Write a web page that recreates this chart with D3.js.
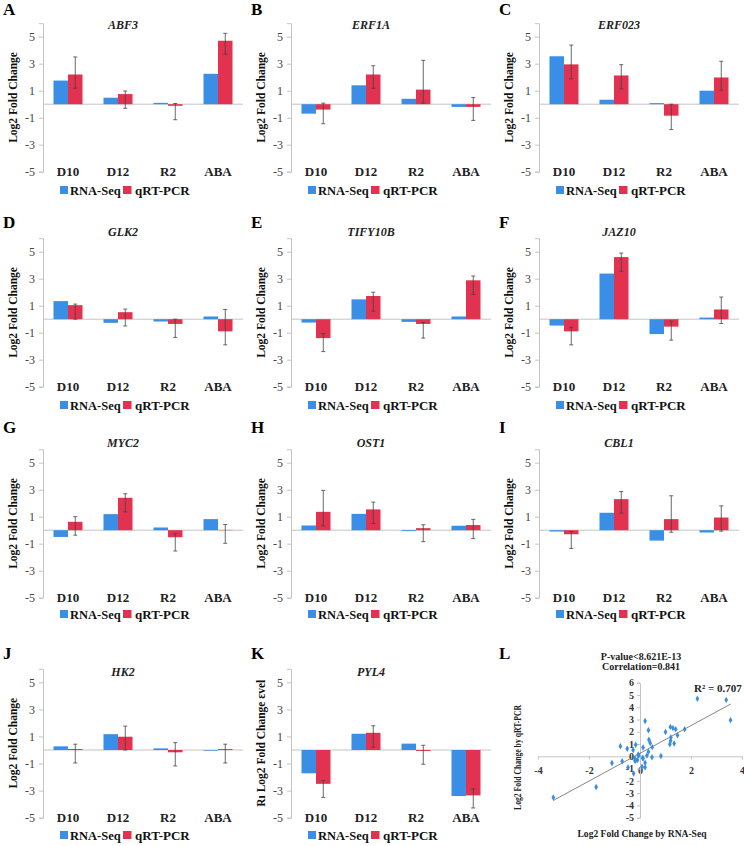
<!DOCTYPE html>
<html><head><meta charset="utf-8">
<script src="https://cdn.jsdelivr.net/npm/d3@7"></script>
<style>
body{margin:0;background:#fff}
svg{display:block}
text{font-family:"Liberation Serif","Times New Roman",serif}
</style>
</head><body><svg id="c" width="744" height="846"></svg>
<script>
const genes = ["ABF3","ERF1A","ERF023","GLK2","TIFY10B","JAZ10","MYC2","OST1","CBL1","HK2","PYL4"];
const letters = ["A","B","C","D","E","F","G","H","I","J","K","L"];
const categories = ["D10","D12","R2","ABA"];
const seriesNames = ["RNA-Seq","qRT-PCR"];
const yTicks = [-5,-3,-1,1,3,5];
const yLabels = ["Log2 Fold Change","Log2 Fold Change","Log2 Fold Change","Log2 Fold Change","Log2 Fold Change","Log2 Fold Change","Log2 Fold Change","Log2 Fold Change","Log2 Fold Change","Log2 Fold Change","R\u0131 Log2 Fold Change \u025Bvel"];

const rnaSeq = [
  [1.75,0.48,0.10,2.25],
  [-0.70,1.40,0.40,-0.20],
  [3.55,0.33,0.08,1.00],
  [1.34,-0.27,-0.17,0.20],
  [-0.25,1.47,-0.20,0.20],
  [-0.47,3.38,-1.10,0.12],
  [-0.50,1.19,0.20,0.82],
  [0.35,1.21,-0.07,0.33],
  [-0.10,1.29,-0.77,-0.17],
  [0.27,1.17,0.12,-0.05],
  [-1.72,1.20,0.47,-3.40]
];
const qrtPcr = [
  [2.20,0.75,-0.12,4.70],
  [-0.40,2.20,1.08,-0.20],
  [2.95,2.13,-0.85,1.98],
  [1.04,0.52,-0.35,-0.90],
  [-1.40,1.72,-0.35,2.88],
  [-0.90,4.60,-0.55,0.72],
  [0.62,2.40,-0.52,0.02],
  [1.36,1.54,0.15,0.38],
  [-0.30,2.30,0.82,0.94],
  [0.07,0.98,-0.17,0.07],
  [-2.50,1.27,-0.07,-3.35]
];
const errLow = [
  [1.18,-0.30,-1.15,3.70],
  [-1.45,1.18,0.08,-1.20],
  [1.88,1.13,-1.88,1.03],
  [0.00,-0.50,-1.35,-1.90],
  [-2.40,0.60,-1.40,1.84],
  [-1.90,3.55,-1.55,-0.32],
  [-0.37,1.36,-1.54,-0.97],
  [0.32,0.50,-0.85,-0.62],
  [-1.35,1.27,-0.15,-0.07],
  [-0.96,0.00,-1.18,-0.96],
  [-3.50,0.20,-1.05,-4.28]
];
const errHigh = [
  [3.50,0.98,0.05,5.25],
  [0.08,2.85,3.25,0.50],
  [4.38,2.93,0.00,3.18],
  [1.12,0.75,0.00,0.72],
  [-1.07,2.00,-0.25,3.20],
  [-0.60,4.90,-0.15,1.64],
  [1.00,2.70,-0.27,0.42],
  [2.95,2.08,0.40,0.80],
  [-0.10,2.86,2.55,1.80],
  [0.43,1.76,0.54,0.43],
  [-2.26,1.79,0.35,-2.87]
];
const scatterTitle = ["P-value<8.621E-13","Correlation=0.841"];
const r2Label = "R\u00B2 = 0.707";
const scatterXTicks = [-4,-2,0,2,4];
const scatterYTicks = [-5,-4,-3,-2,-1,0,1,2,3,4,5,6];

const colors = {"RNA-Seq":"#3a8ee6","qRT-PCR":"#e2324f"};
const axisCol = "#c4c4c4";
const SERIF = "'Liberation Serif','Times New Roman',serif";

// layout
const colX = [0,248,496];
const rowY5 = [36.7,251.7,462.7,682.3];
const rowYm5 = [171.7,386.7,597.7,817.7];
const rowTitle = [29,236,447,676];
const rowLetter = [15,228,433,659];
const rowLegend = [190,405,614,835];

const svg = d3.select("#c");

genes.forEach((gene,i)=>{
  const r = Math.floor(i/3), c = i%3;
  const g = svg.append("g").attr("transform",`translate(${colX[c]},0)`);
  const unit = (rowYm5[r]-rowY5[r])/10;
  const y = d3.scaleLinear().domain([-5,6]).range([rowYm5[r], rowYm5[r]-11*unit]);
  const x0 = d3.scaleBand().domain(categories).range([43,243]).paddingInner(0.42).paddingOuter(0.21);
  const x1 = d3.scaleBand().domain(seriesNames).range([0,x0.bandwidth()]);

  g.append("text").attr("x",3).attr("y",rowLetter[r]).attr("font-size",17).attr("font-weight","bold").text(letters[i]);

  const ya = g.append("g").attr("transform","translate(43,0)")
    .call(d3.axisLeft(y).tickValues(yTicks).tickFormat(d=>String(d)).tickSize(4).tickPadding(4));
  ya.attr("font-family",SERIF);
  ya.selectAll("path,line").attr("stroke",axisCol);
  ya.selectAll("text").attr("font-size",12).attr("fill","#444");

  g.append("line").attr("x1",x0.range()[0]).attr("x2",x0.range()[1]).attr("y1",y(0)).attr("y2",y(0)).attr("stroke",axisCol);

  const data = categories.map((cat,k)=>({cat, k, vals:[rnaSeq[i][k], qrtPcr[i][k]]}));
  data.forEach(d=>{
    seriesNames.forEach((s,si)=>{
      const v = d.vals[si];
      g.append("rect")
        .attr("x",x0(d.cat)+x1(s))
        .attr("width",x1.bandwidth())
        .attr("y",Math.min(y(v),y(0)))
        .attr("height",Math.abs(y(v)-y(0)))
        .attr("fill",colors[s]);
    });
    const cx = x0(d.cat)+x1("qRT-PCR")+x1.bandwidth()/2;
    const lo = errLow[i][d.k], hi = errHigh[i][d.k];
    g.append("line").attr("x1",cx).attr("x2",cx).attr("y1",y(lo)).attr("y2",y(hi)).attr("stroke","#444").attr("stroke-width",0.8);
    [lo,hi].forEach(v=>g.append("line").attr("x1",cx-2).attr("x2",cx+2).attr("y1",y(v)).attr("y2",y(v)).attr("stroke","#444").attr("stroke-width",0.8));
  });

  categories.forEach(cat=>{
    g.append("text").attr("x",x0(cat)+x0.bandwidth()/2).attr("y",y(-5)+4.5)
      .attr("text-anchor","middle").attr("font-size",13).attr("font-weight","bold").attr("fill","#222").text(cat);
  });

  g.append("text").attr("x",123).attr("y",rowTitle[r]).attr("text-anchor","middle")
    .attr("font-size",12).attr("font-weight","bold").attr("font-style","italic").attr("fill","#222").text(gene);

  const ymid = (y(6)+y(-5))/2;
  g.append("text").attr("transform",`translate(17,${ymid}) rotate(-90)`).attr("text-anchor","middle")
    .attr("font-size",11.5).attr("font-weight","bold").attr("fill","#111").text(yLabels[i]);

  const ly = rowLegend[r];
  g.append("rect").attr("x",60).attr("y",ly-4).attr("width",8).attr("height",8).attr("fill",colors["RNA-Seq"]);
  g.append("text").attr("x",70).attr("y",ly+4.5).attr("font-size",12.5).attr("font-weight","bold").attr("fill","#111").text("RNA-Seq");
  g.append("rect").attr("x",123).attr("y",ly-4).attr("width",8.5).attr("height",8).attr("fill",colors["qRT-PCR"]);
  g.append("text").attr("x",135).attr("y",ly+4.5).attr("font-size",13).attr("font-weight","bold").attr("fill","#111").text("qRT-PCR");
});

// Panel L scatter
{
  const g = svg.append("g");
  g.append("text").attr("x",499).attr("y",rowLetter[3]).attr("font-size",17).attr("font-weight","bold").text(letters[11]);
  const sx = d3.scaleLinear().domain([-4,4]).range([538,742]);
  const sy = d3.scaleLinear().domain([-5,6]).range([817.7,682.7]);
  const pts = [];
  rnaSeq.forEach((row,i)=>row.forEach((v,k)=>pts.push([v,qrtPcr[i][k]])));

  const xa = g.append("g").attr("transform",`translate(0,${sy(0)})`)
    .call(d3.axisBottom(sx).tickValues(scatterXTicks).tickFormat(d=>String(d)).tickSize(3).tickPadding(8));
  xa.attr("font-family",SERIF);
  xa.selectAll("path,line").attr("stroke",axisCol);
  xa.selectAll("text").attr("font-size",10).attr("font-weight","bold").attr("fill","#333");

  const yaS = g.append("g").attr("transform",`translate(${sx(0)},0)`)
    .call(d3.axisLeft(sy).tickValues(scatterYTicks).tickFormat(d=>String(d)).tickSize(3).tickPadding(3));
  yaS.attr("font-family",SERIF);
  yaS.selectAll("path,line").attr("stroke",axisCol);
  yaS.selectAll("text").attr("font-size",10).attr("font-weight","bold").attr("fill","#333");

  const mx = d3.mean(pts,p=>p[0]), my = d3.mean(pts,p=>p[1]);
  const slope = d3.sum(pts,p=>(p[0]-mx)*(p[1]-my))/d3.sum(pts,p=>(p[0]-mx)**2);
  const icpt = my - slope*mx;
  const [xmin,xmax] = d3.extent(pts,p=>p[0]);
  g.append("line").attr("x1",sx(xmin)).attr("y1",sy(icpt+slope*xmin)).attr("x2",sx(xmax)).attr("y2",sy(icpt+slope*xmax))
    .attr("stroke","#666").attr("stroke-width",0.8);

  g.selectAll("path.pt").data(pts).enter().append("path").attr("class","pt")
    .attr("transform",p=>`translate(${sx(p[0])},${sy(p[1])})`)
    .attr("d",d3.symbol(d3.symbolDiamond,12)).attr("fill","#3a8ee0");

  g.append("text").attr("x",641).attr("y",660).attr("text-anchor","middle").attr("font-size",10).attr("font-weight","bold").attr("fill","#222").text(scatterTitle[0]);
  g.append("text").attr("x",641).attr("y",669.5).attr("text-anchor","middle").attr("font-size",10).attr("font-weight","bold").attr("fill","#222").text(scatterTitle[1]);
  g.append("text").attr("x",694).attr("y",692).attr("font-size",11).attr("font-weight","bold").attr("fill","#222").text(r2Label);

  g.append("text").attr("transform",`translate(521,757.5) rotate(-90)`).attr("text-anchor","middle")
    .attr("font-size",10).attr("font-weight","bold").attr("fill","#222")
    .attr("textLength",105).attr("lengthAdjust","spacingAndGlyphs").text("Log2 Fold Change by qRT-PCR");
  g.append("text").attr("x",642).attr("y",836.5).attr("text-anchor","middle")
    .attr("font-size",10).attr("font-weight","bold").attr("fill","#222")
    .attr("textLength",129).attr("lengthAdjust","spacingAndGlyphs").text("Log2 Fold Change by RNA-Seq");
}
</script>
</body></html>
